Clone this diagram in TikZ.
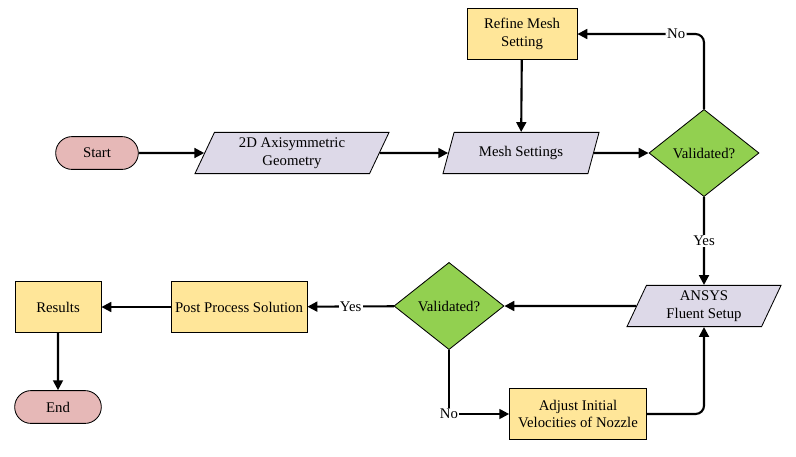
\documentclass[tikz,border=0pt]{standalone}
\usepackage{fontspec}
\setmainfont{Liberation Serif}
\newfontfamily\diagfont{Liberation Serif}
\usetikzlibrary{arrows.meta,shapes.geometric,shapes.misc,positioning}

\definecolor{termpink}{HTML}{E6B8B7}
\definecolor{iolav}{HTML}{DDD9E8}
\definecolor{procyel}{HTML}{FFE699}
\definecolor{decgreen}{HTML}{92D050}

\begin{document}
\begin{tikzpicture}
    [x=0.025cm, y=-0.025cm, >={Triangle[length=7pt,width=7pt]},
    font=\diagfont\fontsize{10.5}{12.5}\selectfont,
    term/.style = {rounded rectangle, draw, fill=termpink, line width=0.6pt,
      minimum width=2.12cm, minimum height=0.82cm},
    io/.style = {trapezium, trapezium left angle=64, trapezium right angle=116,
      trapezium stretches body, draw, fill=iolav, line width=0.6pt,
      align=center, minimum width=4.85cm, minimum height=1.03cm, inner xsep=2pt},
    proc/.style = {rectangle, draw, fill=procyel, line width=0.6pt,
      align=center, minimum height=1.26cm, inner xsep=2pt},
    dec/.style = {diamond, draw, fill=decgreen, line width=0.6pt,
      minimum width=2.75cm, minimum height=2.18cm, inner sep=0pt},
    flow/.style = {->, line width=1.5pt},
    lbl/.style = {fill=white, inner sep=1pt}]

  \useasboundingbox (0,0) rectangle (796,456);

  \node[term, minimum width=2.3cm] (start) at (97,153) {Start};
  \node[io] (geom) at (292,153) {2D Axisymmetric\\Geometry};
  \node[io, minimum width=3.9cm] (mesh) at (521,153) {Mesh Settings};
  \node[proc, minimum width=2.75cm] (refine) at (522,34) {Refine Mesh\\Setting};
  \node[dec] (valmesh) at (704,153) {Validated?};

  \node[io, minimum width=3.85cm] (ansys) at (704,306) {ANSYS\\Fluent Setup};
  \node[dec] (valsol) at (449,306) {Validated?};
  \node[proc, minimum width=3.42cm] (adjust) at (578,414) {Adjust Initial\\Velocities of Nozzle};
  \node[proc, minimum width=3.4cm] (post) at (239,307) {Post Process Solution};
  \node[proc, minimum width=2.15cm] (results) at (58,307) {Results};
  \node[term, minimum width=2.4cm] (end) at (58,407) {End};

  \draw[flow] (start) -- (geom);
  \draw[flow] (geom) -- (mesh);
  \draw[flow] (mesh) -- (valmesh);
  \draw[flow] (refine) -- (mesh);
  \draw[flow, rounded corners=6pt] (valmesh.north) |- node[lbl, pos=0.61] {No} (refine.east);
  \draw[flow] (valmesh) -- node[lbl, pos=0.5] {Yes} (ansys);
  \draw[flow] (ansys) -- (valsol);
  \draw[flow] (valsol) -- node[lbl, pos=0.5] {Yes} (post);
  \draw[flow] (valsol.south) |- node[lbl, pos=0.5] {No} (adjust.west);
  \draw[flow, rounded corners=6pt] (adjust.east) -| (ansys.south);
  \draw[flow] (post) -- (results);
  \draw[flow] (results) -- (end);

\end{tikzpicture}
\end{document}
